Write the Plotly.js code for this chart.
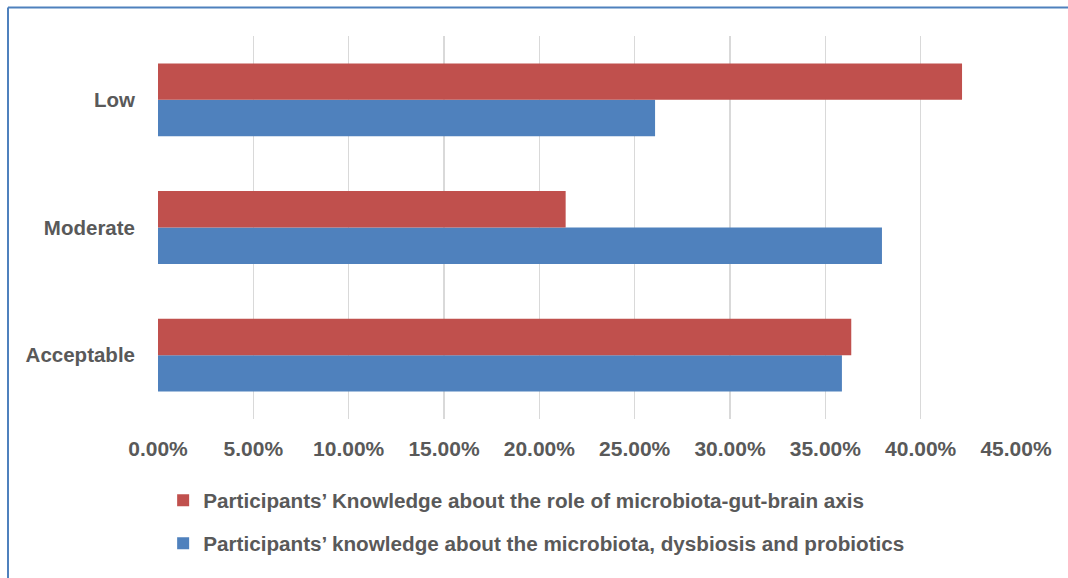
<!DOCTYPE html>
<html>
<head>
<meta charset="utf-8">
<script src="https://cdn.plot.ly/plotly-3.0.1.min.js"></script>
<style>
html,body{margin:0;padding:0;background:#fff;}
#chart{width:1068px;height:578px;}
</style>
</head>
<body>
<div id="chart"></div>
<script>
const categories = ['Acceptable', 'Moderate', 'Low'];
const gutBrainAxis = [0.3636, 0.2138, 0.4217];
const microbiotaKnowledge = [0.3587, 0.3797, 0.2607];
const seriesNames = [
  'Participants\u2019 Knowledge about the role of microbiota-gut-brain axis',
  'Participants\u2019 knowledge about the microbiota, dysbiosis and probiotics'
];
const tickValues = [0, 0.05, 0.10, 0.15, 0.20, 0.25, 0.30, 0.35, 0.40, 0.45];
const tickLabels = ['0.00%', '5.00%', '10.00%', '15.00%', '20.00%', '25.00%', '30.00%', '35.00%', '40.00%', '45.00%'];

const FONT = 'Liberation Sans, Arial, sans-serif';
const TXT = '#595959';

const traces = [
  {
    type: 'bar', orientation: 'h', name: seriesNames[1],
    y: categories, x: microbiotaKnowledge,
    marker: {color: '#4F81BD', line: {width: 0}},
    legendgroup: 'b', legendrank: 2, hoverinfo: 'x+y'
  },
  {
    type: 'bar', orientation: 'h', name: seriesNames[0],
    y: categories, x: gutBrainAxis,
    marker: {color: '#C0504D', line: {width: 0}},
    legendgroup: 'a', legendrank: 1, hoverinfo: 'x+y'
  }
];

const layout = {
  width: 1068, height: 578,
  margin: {l: 158, r: 52, t: 36, b: 159, pad: 0},
  paper_bgcolor: '#ffffff', plot_bgcolor: '#ffffff',
  barmode: 'group', bargap: 0.43, bargroupgap: 0,
  font: {family: FONT, color: TXT, size: 20},
  xaxis: {
    range: [0, 0.45], tickvals: tickValues, ticktext: tickLabels,
    showgrid: true, gridcolor: '#D9D9D9', gridwidth: 1.5,
    zeroline: false, showline: false, ticks: '',
    tickfont: {family: FONT, size: 21, color: TXT, weight: 'bold'},
    ticklabelstandoff: 15, fixedrange: true
  },
  yaxis: {
    type: 'category', categoryorder: 'array', categoryarray: categories,
    showgrid: false, zeroline: false, showline: false, ticks: '',
    tickfont: {family: FONT, size: 20.5, color: TXT, weight: 'bold'},
    ticklabelstandoff: 22, fixedrange: true
  },
  showlegend: true,
  legend: {
    x: 0.006, xanchor: 'left', y: -0.16, yanchor: 'top',
    traceorder: 'grouped', tracegroupgap: 13,
    font: {family: FONT, size: 20.7, color: TXT, weight: 'bold'},
    bgcolor: 'rgba(0,0,0,0)'
  },
  shapes: [
    {type: 'line', xref: 'paper', yref: 'paper',
     x0: (8 - 158) / 858, x1: (1070 - 158) / 858,
     y0: (419 - 7.5) / 383, y1: (419 - 7.5) / 383,
     line: {color: '#4F81BD', width: 2}},
    {type: 'line', xref: 'paper', yref: 'paper',
     x0: (8 - 158) / 858, x1: (8 - 158) / 858,
     y0: (419 - 7.5) / 383, y1: (419 - 580) / 383,
     line: {color: '#4F81BD', width: 2}}
  ]
};

Plotly.newPlot('chart', traces, layout, {displayModeBar: false, staticPlot: true});
</script>
</body>
</html>
